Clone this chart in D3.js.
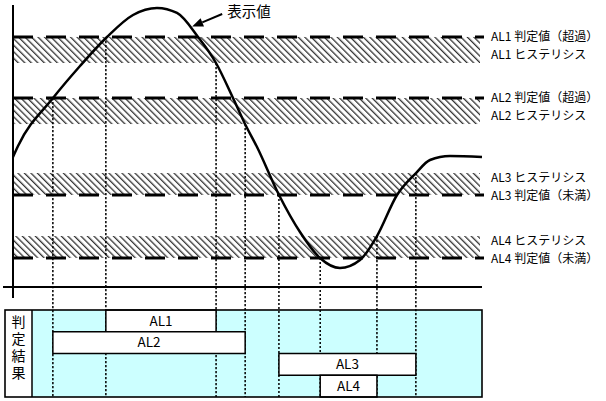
<!DOCTYPE html>
<html><head><meta charset="utf-8">
<script src="https://cdn.jsdelivr.net/npm/d3@7"></script>
<style>body{margin:0;background:#fff}svg{display:block}text{font-family:"Noto Sans CJK JP","Noto Sans",sans-serif;fill:#000}</style>
</head><body><div id="chart"></div>
<script>
// ---- data ----
const curveT = [0, 1.07, 8.53, 14.29, 20.04, 25.59, 30.7, 34.97, 39.45, 43.28, 46.91, 49.47, 52.03, 56.72, 61.19, 65.46, 69.72, 73.99, 77.61, 81.88, 85.93, 88.91, 93.18, 100];
const curveV = [46.43, 50.36, 67.5, 78.93, 89.29, 97.14, 99.64, 97.86, 89.29, 80, 67.5, 58.21, 50, 32.86, 19.64, 10.36, 6.79, 9.64, 18.21, 32.86, 40.71, 45.36, 46.79, 46.43];
const alarms = ["AL1", "AL2", "AL3", "AL4"];
const thresholds = [89.3, 67.5, 32.9, 10.4];
const hysteresis = [9.3, 9.3, 7.8, 7.8];
const directions = ["over", "over", "under", "under"];
const thrLabels = ["AL1 判定値（超過）", "AL2 判定値（超過）", "AL3 判定値（未満）", "AL4 判定値（未満）"];
const hysLabels = ["AL1 ヒステリシス", "AL2 ヒステリシス", "AL3 ヒステリシス", "AL4 ヒステリシス"];
const onTimes = [19.8, 8.5, 56.7, 65.5];
const offTimes = [43.3, 49.5, 85.9, 77.6];
const resultTitle = "判定結果";
const pvLabel = "表示値";

const W = 606, H = 401;
const svg = d3.select("#chart").append("svg").attr("width", W).attr("height", H);
const x = d3.scaleLinear().domain([0, 100]).range([13, 482]);
const y = d3.scaleLinear().domain([0, 100]).range([287, 7]);

// hatch pattern
const defs = svg.append("defs");
const pat = defs.append("pattern").attr("id", "hatch").attr("patternUnits", "userSpaceOnUse")
  .attr("width", 4.6).attr("height", 4.6).attr("patternTransform", "rotate(-45)");
pat.append("rect").attr("width", 4.6).attr("height", 4.6).attr("fill", "#fff");
pat.append("line").attr("x1", 0).attr("y1", 0).attr("x2", 0).attr("y2", 4.6)
  .attr("stroke", "#333").attr("stroke-width", 2.6);

// bands
alarms.forEach((a, i) => {
  const thr = thresholds[i], h = hysteresis[i];
  const lo = directions[i] === "over" ? thr - h : thr;
  const hi = directions[i] === "over" ? thr : thr + h;
  svg.append("rect").attr("x", x(0)).attr("y", y(hi)).attr("width", 480 - x(0))
    .attr("height", y(lo) - y(hi)).attr("fill", "url(#hatch)");
});
alarms.forEach((a, i) => {
  const thr = thresholds[i];
  const over = directions[i] === "over";
  svg.append("line").attr("x1", x(0)).attr("x2", 484).attr("y1", y(thr)).attr("y2", y(thr))
    .attr("stroke", "#000").attr("stroke-width", 3).attr("stroke-dasharray", "20,13");
  svg.append("text").attr("x", 491).attr("y", y(thr) + (over ? -0.5 : 0.5)).attr("dy", "0.36em")
    .attr("font-size", 12).text(thrLabels[i]);
  svg.append("text").attr("x", 491).attr("y", over ? y(thr) + 17.5 : y(thr) - 17.5).attr("dy", "0.36em")
    .attr("font-size", 12).text(hysLabels[i]);
});

// result box
const boxTop = 310, boxBot = 397, boxL = 5, colR = 32, boxR = 482;
svg.append("rect").attr("x", colR).attr("y", boxTop).attr("width", boxR - colR).attr("height", boxBot - boxTop)
  .attr("fill", "#ccffff");
const rowY = d3.scaleBand().domain(alarms).range([boxTop, boxBot]);

// dotted event lines
const events = [];
alarms.forEach((a, i) => {
  const thr = thresholds[i], h = hysteresis[i];
  const offV = directions[i] === "over" ? thr - h : thr + h;
  events.push({t: onTimes[i], v: thr});
  events.push({t: offTimes[i], v: offV});
});
svg.selectAll("line.ev").data(events).join("line").attr("class", "ev")
  .attr("x1", d => x(d.t)).attr("x2", d => x(d.t)).attr("y1", d => y(d.v)).attr("y2", boxBot)
  .attr("stroke", "#000").attr("stroke-width", 1.5).attr("stroke-dasharray", "2.2,1.8");

// bars
alarms.forEach((a, i) => {
  svg.append("rect").attr("x", x(onTimes[i])).attr("y", rowY(a)).attr("width", x(offTimes[i]) - x(onTimes[i]))
    .attr("height", rowY.bandwidth()).attr("fill", "#fff").attr("stroke", "#000").attr("stroke-width", 1.5);
  svg.append("text").attr("x", (x(onTimes[i]) + x(offTimes[i])) / 2).attr("y", rowY(a) + rowY.bandwidth() / 2)
    .attr("dy", "0.36em").attr("text-anchor", "middle").attr("font-size", 13.5).text(a);
});
svg.append("rect").attr("x", boxL).attr("y", boxTop).attr("width", boxR - boxL).attr("height", boxBot - boxTop)
  .attr("fill", "none").attr("stroke", "#000").attr("stroke-width", 1.6);
svg.append("line").attr("x1", colR).attr("x2", colR).attr("y1", boxTop).attr("y2", boxBot)
  .attr("stroke", "#000").attr("stroke-width", 1.5);
svg.append("text").attr("x", (boxL + colR) / 2).attr("y", 315)
  .attr("style", "writing-mode: vertical-rl; letter-spacing: 3px")
  .attr("font-size", 14).text(resultTitle);

// axes
svg.append("line").attr("x1", 13).attr("x2", 13).attr("y1", 5).attr("y2", 298).attr("stroke", "#000").attr("stroke-width", 2);
svg.append("line").attr("x1", 3).attr("x2", 482).attr("y1", y(0)).attr("y2", y(0)).attr("stroke", "#000").attr("stroke-width", 2);

// curve
const pts = curveT.map((t, i) => [x(t), y(curveV[i])]);
svg.append("path").attr("d", d3.line().curve(d3.curveMonotoneX)(pts))
  .attr("fill", "none").attr("stroke", "#000").attr("stroke-width", 2.5);

// annotation arrow
const tip = [x(38.2), y(93)], tail = [x(44.6), y(97.5)];
const ang = Math.atan2(tip[1] - tail[1], tip[0] - tail[0]);
const hl = 11, hw = 4.5;
const base = [tip[0] - hl * Math.cos(ang), tip[1] - hl * Math.sin(ang)];
svg.append("line").attr("x1", tail[0]).attr("y1", tail[1]).attr("x2", base[0]).attr("y2", base[1])
  .attr("stroke", "#000").attr("stroke-width", 2);
svg.append("path").attr("d", `M${tip[0]},${tip[1]}L${base[0] - hw * Math.sin(ang)},${base[1] + hw * Math.cos(ang)}L${base[0] + hw * Math.sin(ang)},${base[1] - hw * Math.cos(ang)}Z`)
  .attr("fill", "#000");
svg.append("text").attr("x", tail[0] + 5).attr("y", tail[1] - 2).attr("dy", "0.36em").attr("font-size", 14.5).text(pvLabel);
</script></body></html>
